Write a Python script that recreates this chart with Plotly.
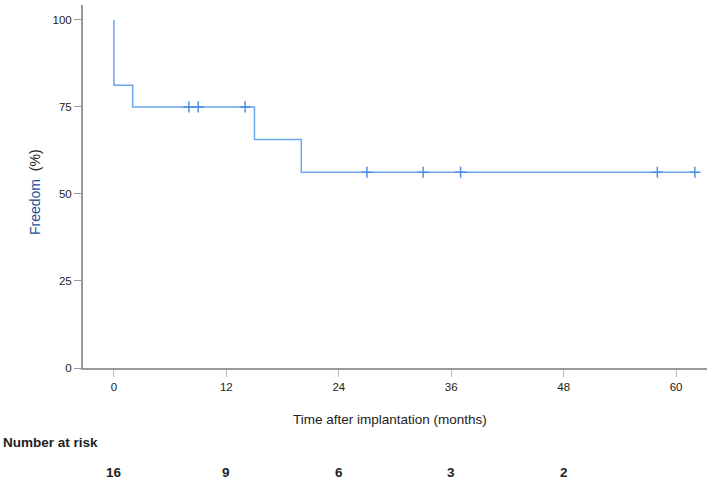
import plotly.graph_objects as go

# Kaplan-Meier step data
step_times = [0, 0, 2, 15, 20, 62.2]
step_surv = [100, 81.25, 75, 65.625, 56.25, 56.25]

# censored observations
cens_times = [8, 9, 14, 27, 33, 37, 58, 62]
cens_surv = [75, 75, 75, 56.25, 56.25, 56.25, 56.25, 56.25]

# number at risk table
risk_times = [0, 12, 24, 36, 48]
risk_counts = ["16", "9", "6", "3", "2"]

x_ticks = [0, 12, 24, 36, 48, 60]
y_ticks = [0, 25, 50, 75, 100]

line_color = "#6aa5f0"
mark_color = "#4f8fe3"
FONT = "Liberation Sans, Arial"

fig = go.Figure()
fig.add_trace(go.Scatter(x=step_times, y=step_surv, mode="lines",
                         line=dict(color=line_color, width=1.5, shape="hv"),
                         hoverinfo="skip", showlegend=False))
fig.add_trace(go.Scatter(x=cens_times, y=cens_surv, mode="markers",
                         marker=dict(symbol="cross-thin", size=8,
                                     line=dict(color=mark_color, width=1.5)),
                         showlegend=False))

annotations = []
for t, c in zip(risk_times, risk_counts):
    annotations.append(dict(x=t, y=(368 - 472) / 363, xref="x", yref="paper", text="<b>" + c + "</b>",
                            showarrow=False, font=dict(size=13.5, color="#222", family=FONT),
                            xanchor="center", yanchor="middle"))
annotations.append(dict(x=(1 - 83) / 624, y=(368 - 442) / 363, xref="paper", yref="paper",
                        text="<b>Number at risk</b>",
                        showarrow=False, font=dict(size=13.5, color="#222", family=FONT),
                        xanchor="left", yanchor="middle"))
annotations.append(dict(x=(390 - 83) / 624, y=(368 - 419) / 363, xref="paper", yref="paper",
                        text="Time after implantation (months)",
                        showarrow=False, font=dict(size=13.5, color="#222", family=FONT),
                        xanchor="center", yanchor="middle"))
annotations.append(dict(x=(35 - 83) / 624, y=(368 - 192) / 363, xref="paper", yref="paper",
                        text="<span style='color:#23509a'>Freedom</span>&nbsp; (%)", textangle=-90,
                        showarrow=False, font=dict(size=14, color="#222", family=FONT),
                        xanchor="center", yanchor="middle"))

fig.update_layout(
    width=709, height=479,
    margin=dict(l=83, r=2, t=5, b=111),
    plot_bgcolor="white", paper_bgcolor="white",
    annotations=annotations,
    xaxis=dict(range=[-3.3, 63.3], tickvals=x_ticks, ticktext=[str(v) for v in x_ticks],
               showgrid=False, zeroline=False, showline=True, linecolor="#999", linewidth=2,
               ticks="outside", ticklen=7, tickcolor="#bbb", tickwidth=1,
               tickfont=dict(size=11.5, color="#222", family=FONT)),
    yaxis=dict(range=[0, 104.3], tickvals=y_ticks, ticktext=[str(v) for v in y_ticks],
               showgrid=False, zeroline=False, showline=True, linecolor="#999", linewidth=2,
               ticks="outside", ticklen=7, tickcolor="#999", tickwidth=1,
               tickfont=dict(size=11.5, color="#222", family=FONT)),
)

fig.write_html("out.html", config={"displayModeBar": False},
               post_script="document.body.style.margin='0px';")
